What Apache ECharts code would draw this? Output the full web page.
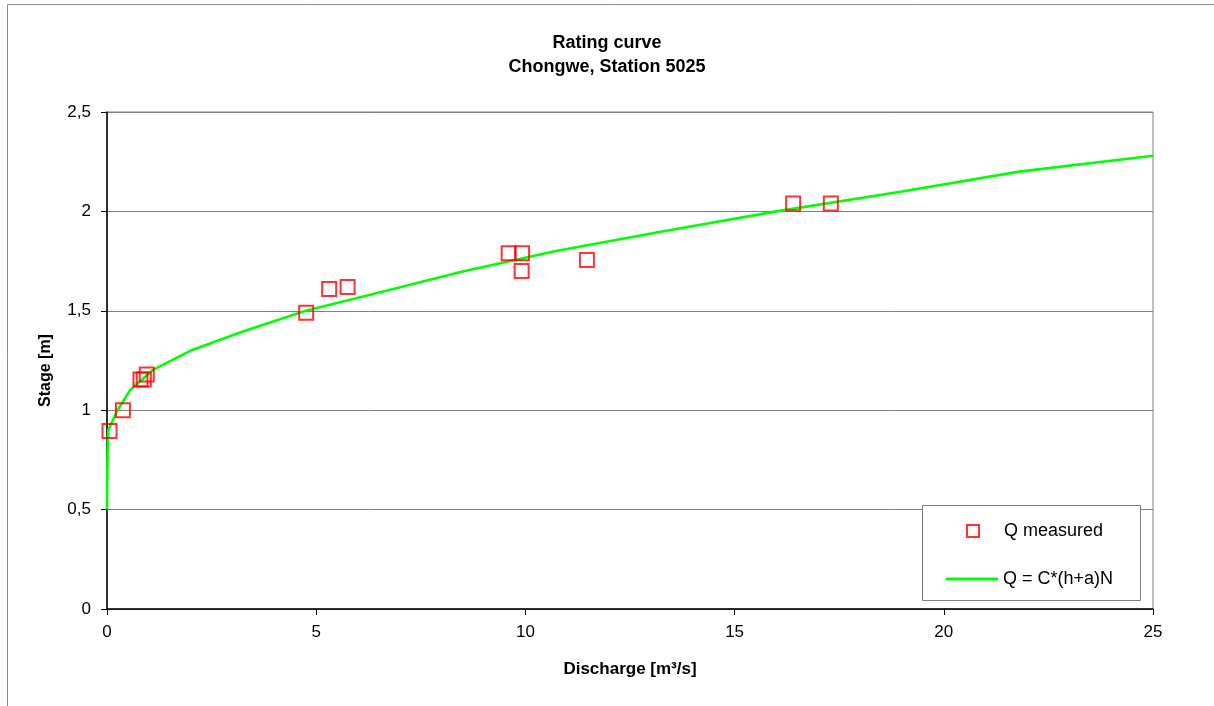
<!DOCTYPE html>
<html>
<head>
<meta charset="utf-8">
<script src="https://cdn.jsdelivr.net/npm/echarts@6/dist/echarts.min.js"></script>
<style>html,body{margin:0;padding:0;background:#fff}#chart{width:1214px;height:706px}</style>
</head>
<body>
<div id="chart"></div>
<script>
// Measured discharge [m³/s] and stage [m]
const measuredQ = [0.06, 0.38, 0.80, 0.88, 0.95, 4.76, 5.31, 5.75, 9.60, 9.92, 9.91, 11.47, 16.40, 17.30];
const measuredH = [0.895, 1.00, 1.155, 1.155, 1.18, 1.49, 1.61, 1.62, 1.79, 1.79, 1.70, 1.755, 2.04, 2.04];
// Rating curve Q = C*(h+a)^N
const curveQ = [0, 0.003, 0.008, 0.015, 0.03, 0.25, 0.55, 1.08, 2.0, 3.3, 4.75, 6.65, 8.55, 10.7, 13.3, 16.0, 19.0, 21.8, 25.0];
const curveH = [0.5, 0.6, 0.7, 0.8, 0.9, 1.0, 1.1, 1.2, 1.3, 1.4, 1.5, 1.6, 1.7, 1.8, 1.9, 2.0, 2.1, 2.2, 2.28];
const titleLines = ['Rating curve', 'Chongwe, Station 5025'];
const xName = 'Discharge [m³/s]';
const yName = 'Stage [m]';
const seriesNames = ['Q measured', 'Q = C*(h+a)N'];

const FONT = '"Liberation Sans", Arial, sans-serif';
const chart = echarts.init(document.getElementById('chart'), null, {renderer: 'canvas'});
const option = {
  backgroundColor: '#fff',
  animation: false,
  textStyle: {fontFamily: FONT},
  title: {
    text: titleLines.join('\n'),
    left: 'center',
    top: 26,
    textStyle: {fontFamily: FONT, fontSize: 18, fontWeight: 'bold', color: '#000', lineHeight: 24}
  },
  graphic: [
    {type: 'rect', shape: {x: 7.5, y: 4.5, width: 1300, height: 800}, style: {fill: null, stroke: '#8c8c8c', lineWidth: 1}, silent: true, z: -10},
    {type: 'rect', shape: {x: 922.5, y: 505.5, width: 218, height: 95}, style: {fill: '#fff', stroke: '#808080', lineWidth: 1}, silent: true, z: 50}
  ],
  grid: {left: 107, top: 112, right: 61, bottom: 97, show: true, borderColor: '#808080', borderWidth: 1, backgroundColor: 'transparent'},
  xAxis: {
    type: 'value', min: 0, max: 25, interval: 5,
    name: xName, nameLocation: 'middle', nameGap: 52,
    nameTextStyle: {fontFamily: FONT, fontSize: 17, fontWeight: 'bold', color: '#000'},
    axisLine: {show: true, onZero: false, lineStyle: {color: '#000', width: 1.5}},
    axisTick: {show: true, inside: false, length: 6, lineStyle: {color: '#000'}},
    axisLabel: {fontFamily: FONT, fontSize: 17, color: '#000', margin: 15},
    splitLine: {show: false}
  },
  yAxis: {
    type: 'value', min: 0, max: 2.5, interval: 0.5,
    name: yName, nameLocation: 'middle', nameGap: 53, nameRotate: 90,
    nameTextStyle: {fontFamily: FONT, fontSize: 16, fontWeight: 'bold', color: '#000', padding: [0, 20, 0, 0]},
    axisLine: {show: true, onZero: false, lineStyle: {color: '#000', width: 1.5}},
    axisTick: {show: true, inside: false, length: 6, lineStyle: {color: '#000'}},
    axisLabel: {fontFamily: FONT, fontSize: 17, color: '#000', margin: 16,
      formatter: v => String(v).replace('.', ',')},
    splitLine: {show: true, lineStyle: {color: '#808080', width: 1}}
  },
  legend: [
    {
      data: [seriesNames[0]], left: 961, top: 517, orient: 'vertical',
      itemWidth: 12, itemHeight: 12, z: 60,
      textStyle: {fontFamily: FONT, fontSize: 18, color: '#000', padding: [0, 0, 0, 20]}
    },
    {
      data: [{name: seriesNames[1], icon: 'rect'}], left: 941, top: 565, orient: 'vertical',
      itemWidth: 52, itemHeight: 3, z: 60,
      itemStyle: {color: '#00FF00'},
      textStyle: {fontFamily: FONT, fontSize: 18, color: '#000'}
    }
  ],
  series: [
    {
      name: seriesNames[1], type: 'line', z: 2,
      data: curveQ.map((q, i) => [q, curveH[i]]),
      showSymbol: false, symbol: 'none',
      lineStyle: {color: '#00FF00', width: 2.6},
      itemStyle: {color: '#00FF00'}
    },
    {
      name: seriesNames[0], type: 'scatter', z: 3,
      data: measuredQ.map((q, i) => [q, measuredH[i]]),
      symbol: 'rect', symbolSize: 14,
      itemStyle: {color: 'rgba(255,255,255,0)', borderColor: '#FF0000', borderWidth: 2}
    }
  ]
};
chart.setOption(option);
</script>
</body>
</html>
